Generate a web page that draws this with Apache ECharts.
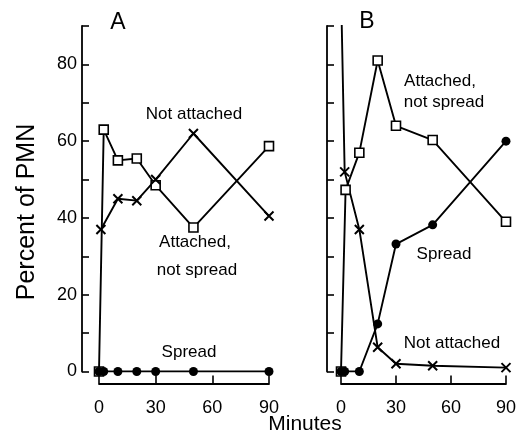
<!DOCTYPE html>
<html><head><meta charset="utf-8">
<script src="https://cdn.jsdelivr.net/npm/echarts@6/dist/echarts.min.js"></script>
<style>html,body{margin:0;padding:0;background:#fff}#c{width:519px;height:445px}</style>
</head><body><div id="c"></div>
<script>
// Panel A data
const tAttachedA = [0, 2.5, 10, 20, 30, 50, 90];
const attachedA  = [0, 63, 55, 55.5, 48.5, 37.5, 58.7];
const tNotAttA   = [1, 10, 20, 30, 50, 90];
const notAttA    = [37, 45, 44.5, 50, 62, 40.5];
const tSpreadA   = [0, 2.5, 10, 20, 30, 50, 90];
const spreadA    = [0, 0, 0, 0, 0, 0, 0];
// Panel B data
const tAttachedB = [0, 2.5, 10, 20, 30, 50, 90];
const attachedB  = [0, 47.3, 57, 81, 64, 60.3, 39];
const tNotAttB   = [0, 2, 10, 20, 30, 50, 90];
const notAttB    = [100, 52, 37, 6.3, 2, 1.5, 1];
const tSpreadB   = [0, 2, 10, 20, 30, 50, 90];
const spreadB    = [0, 0, 0, 12.4, 33.2, 38.2, 60];
// Axis ticks
const xTicks = [0, 30, 60, 90];
const yLabelStep = 20;

const FONT = 'Liberation Sans, Arial, Helvetica, sans-serif';
const pts = (t, v) => t.map((x, i) => [x, v[i]]);
const cross = 'path://M0,0L10,10M10,0L0,10';

function lineSeries(idx, data, kind) {
  const s = {
    type: 'line', xAxisIndex: idx, yAxisIndex: idx, data: data,
    lineStyle: {color: '#000', width: 1.9}, clip: true, animation: false,
    symbolSize: 9, z: 3
  };
  if (kind === 'sq') { s.symbol = 'rect'; s.symbolSize = 9; s.itemStyle = {color: '#fff', borderColor: '#000', borderWidth: 1.6}; }
  if (kind === 'x') { s.symbol = cross; s.symbolSize = 9; s.itemStyle = {color: '#000', borderColor: '#000', borderWidth: 2}; }
  if (kind === 'dot') { s.symbol = 'circle'; s.symbolSize = 9; s.itemStyle = {color: '#000', borderColor: '#000', borderWidth: 0}; s.z = 4; }
  return s;
}

function xAxis(idx) {
  return {
    type: 'value', gridIndex: idx, min: xTicks[0], max: xTicks[xTicks.length - 1], interval: 30,
    offset: 12, splitLine: {show: false},
    axisLine: {onZero: false, lineStyle: {color: '#000', width: 1.8}},
    axisTick: {inside: true, length: 8, lineStyle: {color: '#000', width: 1.6}},
    axisLabel: {color: '#000', fontFamily: FONT, fontSize: 18, margin: 16}
  };
}
function yAxis(idx, showLabels, off) {
  return {
    type: 'value', gridIndex: idx, min: 0, max: 90, interval: 10,
    offset: off, splitLine: {show: false},
    axisLine: {show: true, onZero: false, lineStyle: {color: '#000', width: 1.8}},
    axisTick: {inside: true, length: 7, lineStyle: {color: '#000', width: 1.6}},
    axisLabel: {show: showLabels, color: '#000', fontFamily: FONT, fontSize: 18, margin: 5,
      formatter: v => (v % yLabelStep === 0 ? String(v) : '')}
  };
}

function txt(x, y, s, size) {
  return {type: 'text', x: x, y: y, style: {text: s, fill: '#000', font: (size || 17) + 'px ' + FONT, textAlign: 'center', textVerticalAlign: 'middle'}};
}

const chart = echarts.init(document.getElementById('c'), null, {renderer: 'canvas'});
chart.setOption({
  backgroundColor: '#fff',
  animation: false,
  grid: [
    {left: 99, top: 26, width: 170, height: 345.5},
    {left: 341, top: 26, width: 173, height: 345.5}
  ],
  xAxis: [xAxis(0), xAxis(1)],
  yAxis: [yAxis(0, true, 17), yAxis(1, false, 14)],
  series: [
    lineSeries(0, pts(tAttachedA, attachedA), 'sq'),
    lineSeries(0, pts(tNotAttA, notAttA), 'x'),
    lineSeries(0, pts(tSpreadA, spreadA), 'dot'),
    lineSeries(1, pts(tAttachedB, attachedB), 'sq'),
    lineSeries(1, pts(tNotAttB, notAttB), 'x'),
    lineSeries(1, pts(tSpreadB, spreadB), 'dot')
  ],
  graphic: [
    txt(118, 23, 'A', 23),
    txt(367, 22, 'B', 23),
    {type: 'text', x: 27, y: 212, rotation: Math.PI / 2,
      style: {text: 'Percent of PMN', fill: '#000', font: '25px ' + FONT, textAlign: 'center', textVerticalAlign: 'middle'}},
    txt(305, 424, 'Minutes', 21),
    txt(194, 114, 'Not attached'),
    txt(195, 242, 'Attached,'),
    txt(197, 270, 'not spread'),
    txt(189, 352, 'Spread'),
    txt(440, 81, 'Attached,'),
    txt(444, 102, 'not spread'),
    txt(444, 254, 'Spread'),
    txt(452, 343, 'Not attached')
  ]
});
</script></body></html>
